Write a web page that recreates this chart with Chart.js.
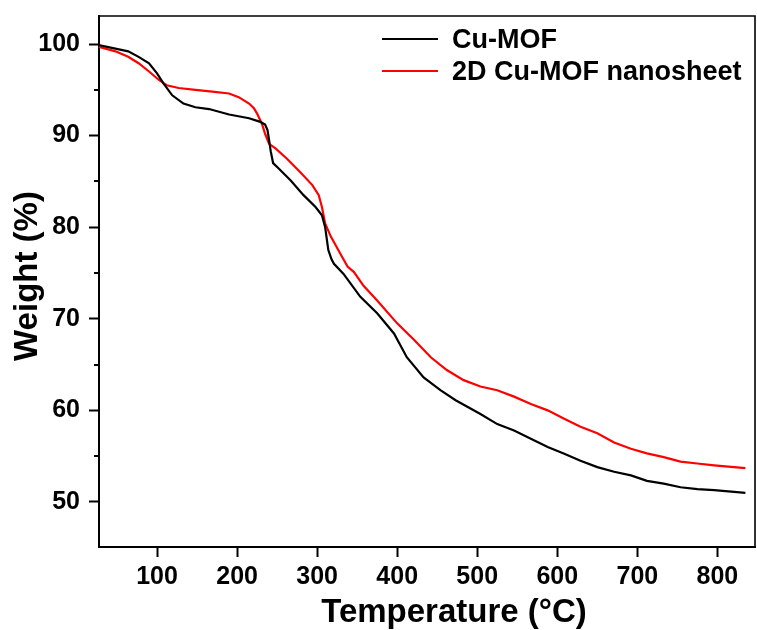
<!DOCTYPE html>
<html>
<head>
<meta charset="utf-8">
<script src="https://cdn.jsdelivr.net/npm/chart.js@4"></script>
<style>
    body { margin: 0; background: #fff; }
</style>
</head>
<body>
<canvas id="tga" width="757" height="630"></canvas>
<script>
const tga_canvas = document.getElementById('tga')

const font_family = '"Liberation Sans", Arial, sans-serif'

// Cu-MOF
const temp_cu_mof = [27, 48, 64, 77, 90, 100, 108, 119, 133, 148, 165, 190, 215, 229, 235, 238, 240, 242, 245, 252, 267, 283, 298, 306, 310, 314, 318, 321, 333, 354, 375, 396, 412, 433, 454, 473, 504, 525, 546, 567, 588, 608, 629, 650, 671, 692, 712, 733, 754, 775, 796, 835]
const weight_cu_mof = [99.9, 99.5, 99.2, 98.6, 97.9, 96.8, 95.7, 94.4, 93.5, 93.1, 92.9, 92.3, 91.9, 91.5, 91.2, 90.6, 89.5, 88.3, 87.0, 86.4, 85.1, 83.5, 82.2, 81.3, 80.0, 77.5, 76.5, 76.0, 74.9, 72.4, 70.6, 68.4, 65.8, 63.6, 62.2, 61.1, 59.6, 58.5, 57.8, 56.9, 56.0, 55.3, 54.5, 53.8, 53.3, 52.9, 52.3, 52.0, 51.6, 51.4, 51.3, 51.0]

// 2D Cu-MOF nanosheet
const temp_nanosheet = [27, 48, 64, 77, 90, 102, 112, 127, 148, 169, 190, 202, 215, 221, 225, 231, 235, 240, 248, 262, 279, 294, 302, 306, 310, 317, 329, 338, 346, 358, 375, 400, 421, 442, 462, 483, 504, 525, 546, 567, 588, 608, 629, 650, 671, 692, 712, 733, 754, 775, 796, 835]
const weight_nanosheet = [99.7, 99.2, 98.6, 97.9, 97.0, 96.1, 95.5, 95.2, 95.0, 94.8, 94.6, 94.2, 93.5, 93.0, 92.4, 91.3, 90.2, 89.1, 88.6, 87.5, 86.0, 84.6, 83.5, 82.2, 80.4, 79.0, 77.1, 75.7, 75.1, 73.6, 72.0, 69.5, 67.7, 65.8, 64.4, 63.3, 62.6, 62.2, 61.5, 60.7, 60.0, 59.1, 58.2, 57.5, 56.5, 55.8, 55.3, 54.9, 54.4, 54.2, 54.0, 53.7]

const series_names = ['Cu-MOF', '2D Cu-MOF nanosheet']
const series_colors = ['#000000', '#ff0000']

const x_ticks = [100, 200, 300, 400, 500, 600, 700, 800]
const y_ticks = [50, 60, 70, 80, 90, 100]
const y_minor_ticks = [55, 65, 75, 85, 95]

const x_title = 'Temperature (°C)'
const y_title = 'Weight (%)'

function to_points(xs, ys) {
    return xs.map((x, i) => ({ x: x, y: ys[i] }))
}

const frame_plugin = {
    id: 'frameAndLegend',
    afterDraw: (chart) => {
        const { ctx, chartArea } = chart
        const y_scale = chart.scales.y
        ctx.save()
        ctx.strokeStyle = '#000'
        ctx.lineWidth = 1.6
        ctx.beginPath()
        ctx.moveTo(chartArea.left, chartArea.top)
        ctx.lineTo(chartArea.right, chartArea.top)
        ctx.lineTo(chartArea.right, chartArea.bottom)
        ctx.stroke()

        // short minor ticks on the y axis
        ctx.lineWidth = 2
        y_minor_ticks.forEach(v => {
            const py = Math.round(y_scale.getPixelForValue(v))
            ctx.beginPath()
            ctx.moveTo(chartArea.left - 5, py)
            ctx.lineTo(chartArea.left, py)
            ctx.stroke()
        })

        // axis titles
        ctx.fillStyle = '#000'
        ctx.font = 'bold 33px ' + font_family
        ctx.textAlign = 'center'
        ctx.textBaseline = 'alphabetic'
        ctx.fillText(x_title, 454, 622)
        ctx.save()
        ctx.translate(37, 276)
        ctx.rotate(-Math.PI / 2)
        ctx.fillText(y_title, 0, 0)
        ctx.restore()

        // legend inside the plot
        ctx.font = 'bold 27px ' + font_family
        ctx.textBaseline = 'middle'
        ctx.textAlign = 'left'
        const rows = [39, 71]
        series_names.forEach((name, i) => {
            ctx.strokeStyle = series_colors[i]
            ctx.lineWidth = 2
            ctx.beginPath()
            ctx.moveTo(382, rows[i])
            ctx.lineTo(438, rows[i])
            ctx.stroke()
            ctx.fillStyle = '#000'
            ctx.fillText(name, 452, rows[i] + 2)
        })
        ctx.restore()
    }
}

new Chart(tga_canvas, {
    type: 'line',
    data: {
        datasets: [
            {
                label: series_names[0],
                data: to_points(temp_cu_mof, weight_cu_mof),
                borderColor: series_colors[0],
                borderWidth: 2.2,
                pointRadius: 0,
                tension: 0
            },
            {
                label: series_names[1],
                data: to_points(temp_nanosheet, weight_nanosheet),
                borderColor: series_colors[1],
                borderWidth: 2.2,
                pointRadius: 0,
                tension: 0
            }
        ]
    },
    options: {
        responsive: false,
        animation: false,
        layout: {
            padding: { top: 16, right: 2, left: 0, bottom: 0 }
        },
        plugins: {
            legend: { display: false },
            tooltip: { enabled: false }
        },
        scales: {
            x: {
                type: 'linear',
                min: 27.5,
                max: 847,
                afterBuildTicks: scale => {
                    scale.ticks = x_ticks.map(v => ({ value: v }))
                },
                afterFit: scale => {
                    scale.height = 83
                    scale.paddingLeft = 0
                    scale.paddingRight = 0
                },
                grid: {
                    drawOnChartArea: false,
                    tickLength: 10,
                    tickWidth: 2,
                    tickColor: '#000'
                },
                border: { color: '#000', width: 2 },
                ticks: {
                    color: '#000',
                    padding: 5,
                    maxRotation: 0,
                    font: { family: font_family, size: 25, weight: 'bold' }
                }
            },
            y: {
                type: 'linear',
                min: 45.08,
                max: 103.06,
                afterBuildTicks: scale => {
                    scale.ticks = y_ticks.map(v => ({ value: v }))
                },
                afterFit: scale => {
                    scale.width = 99
                    scale.paddingTop = 0
                    scale.paddingBottom = 0
                },
                grid: {
                    drawOnChartArea: false,
                    tickLength: 10,
                    tickWidth: 2,
                    tickColor: '#000'
                },
                border: { color: '#000', width: 2 },
                ticks: {
                    color: '#000',
                    padding: 9,
                    font: { family: font_family, size: 25, weight: 'bold' }
                }
            }
        }
    },
    plugins: [frame_plugin]
})
</script>
</body>
</html>
